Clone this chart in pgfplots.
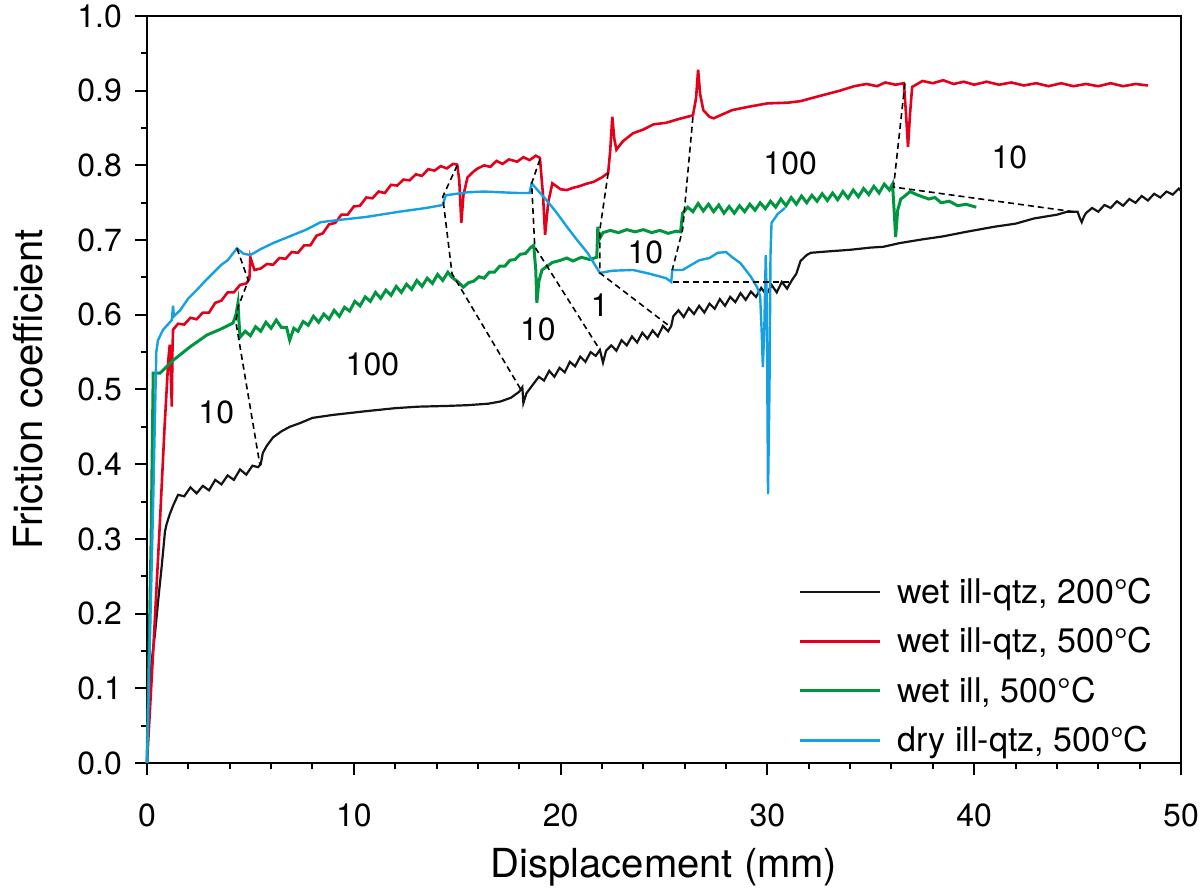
\documentclass[border=0pt]{standalone}
\usepackage{fontspec}
\setmainfont{TeX Gyre Heros}
\usepackage{pgfplots}
\pgfplotsset{compat=1.18}
\definecolor{cblack}{RGB}{20,20,20}
\definecolor{cred}{RGB}{226,0,26}
\definecolor{cgreen}{RGB}{0,150,64}
\definecolor{cblue}{RGB}{20,160,225}
\begin{document}
\begin{tikzpicture}
\begin{axis}[
 scale only axis, width=517pt, height=373.5pt,
 xmin=0, xmax=50, ymin=0, ymax=1,
 xtick={0,10,20,30,40,50},
 ytick={0,0.1,0.2,0.3,0.4,0.5,0.6,0.7,0.8,0.9,1.0},
 minor x tick num=4, minor y tick num=1,
 tick pos=left, tick align=outside,
 major tick length=6pt, minor tick length=3pt,
 every tick/.style={black, line width=1pt},
 axis line style={line width=1pt},
 tick label style={font=\fontsize{16}{19}\selectfont},
 xticklabel shift=11pt,
 yticklabel shift=3pt,
 /pgf/number format/assume math mode=true,
 yticklabel style={/pgf/number format/.cd,fixed,fixed zerofill,precision=1},
 xlabel={Displacement (mm)}, ylabel={Friction coefficient},
 label style={font=\fontsize{20}{24}\selectfont},
 xlabel style={at={([yshift=-57pt]axis description cs:0.5,0)}, anchor=base},
 ylabel style={at={([xshift=-59.5pt]axis description cs:0,0.5)}, anchor=center},
 legend style={draw=none, fill=none, font=\fontsize{17}{20}\selectfont,
   at={(axis cs:31.2,0.259)}, anchor=north west, row sep=6.5pt,
   /tikz/every odd column/.append style={column sep=6pt}},
 legend cell align=left,
 legend image code/.code={\draw[#1] (0pt,0pt) -- (40pt,0pt);},
 clip=false,
]
% black
\addplot[cblack, line width=1.1pt] coordinates {
(0,0) (0.06,0.075) (0.2,0.13) (0.39,0.174) (0.55,0.22) (0.71,0.263) (0.87,0.31) (0.95,0.320) (1.1,0.333) (1.27,0.345)
(1.5,0.359) (1.8,0.357) (2.1,0.369) (2.4,0.361) (2.7,0.371) (3.0,0.365) (3.3,0.379) (3.6,0.373) (3.9,0.385) (4.2,0.379)
(4.5,0.393) (4.8,0.386) (5.1,0.398) (5.37,0.396) (5.5,0.40) (5.6,0.415) (5.8,0.425) (6.1,0.436) (6.5,0.444) (6.9,0.45)
(7.4,0.455) (8.0,0.462) (9.0,0.466) (10.6,0.471) (12,0.475) (13.1,0.477) (14.5,0.478) (15.5,0.479) (16.5,0.481) (17.1,0.484)
(17.6,0.489) (18.0,0.497) (18.15,0.503) (18.2,0.482) (18.35,0.495) (18.7,0.508)
(18.95,0.517) (19.2,0.512) (19.45,0.525) (19.7,0.517) (19.95,0.529) (20.2,0.523) (20.45,0.537) (20.7,0.531) (20.95,0.544)
(21.2,0.537) (21.45,0.550) (21.7,0.545) (21.9,0.553) (22.05,0.536) (22.2,0.552) (22.45,0.559) (22.7,0.552) (22.95,0.566)
(23.2,0.559) (23.45,0.571) (23.7,0.563) (23.95,0.576) (24.2,0.568) (24.45,0.579) (24.7,0.571) (24.95,0.585) (25.2,0.578)
(25.35,0.585) (25.45,0.598) (25.7,0.606) (25.95,0.597) (26.2,0.609) (26.45,0.601) (26.7,0.612) (26.95,0.603) (27.2,0.615)
(27.45,0.608) (27.7,0.621) (27.95,0.612) (28.2,0.624) (28.45,0.617) (28.7,0.629) (28.95,0.620) (29.2,0.631) (29.45,0.624)
(29.7,0.636) (29.95,0.627) (30.2,0.640) (30.45,0.630) (30.7,0.644) (30.95,0.635) (31.2,0.647) (31.4,0.655) (31.6,0.672)
(31.9,0.68) (32.1,0.683) (33,0.685) (34.0,0.687) (35.0,0.69) (35.6,0.691) (36.4,0.696) (37.5,0.701) (38.5,0.705) (39.6,0.711)
(41,0.718) (42.0,0.722) (42.9,0.729) (44.0,0.734) (44.5,0.738) (45.0,0.738) (45.1,0.73) (45.2,0.724) (45.3,0.731) (45.4,0.736)
(45.7,0.743) (46.0,0.738) (46.3,0.747) (46.6,0.743) (46.9,0.752) (47.2,0.746) (47.5,0.755) (47.8,0.75) (48.1,0.759) (48.4,0.753)
(48.7,0.762) (49.0,0.757) (49.3,0.765) (49.6,0.761) (49.9,0.769) (50,0.766)
};
\addlegendentry{wet ill-qtz, 200°C}
% red
\addplot[cred, line width=1.3pt] coordinates {
(0,0) (0.3,0.15) (0.63,0.325) (0.85,0.45) (1.03,0.539) (1.1,0.56) (1.15,0.52) (1.2,0.477) (1.23,0.55) (1.26,0.58)
(1.5,0.588) (1.8,0.587) (2.1,0.596) (2.4,0.594) (2.7,0.603) (3.0,0.603) (3.3,0.616) (3.6,0.619) (3.9,0.630) (4.2,0.630)
(4.5,0.640) (4.8,0.642) (4.95,0.648) (5.0,0.677) (5.1,0.668) (5.2,0.660) (5.5,0.662) (5.8,0.668) (6.1,0.667) (6.4,0.676)
(6.7,0.675) (7.0,0.684) (7.3,0.683) (7.6,0.693) (7.9,0.693) (8.2,0.706) (8.5,0.709) (8.8,0.721) (9.1,0.723) (9.4,0.734)
(9.7,0.734) (10.0,0.745) (10.3,0.746) (10.6,0.757) (10.9,0.756) (11.2,0.765) (11.5,0.763) (11.8,0.774) (12.1,0.773) (12.4,0.781)
(12.7,0.780) (13.0,0.788) (13.3,0.786) (13.6,0.795) (13.9,0.793) (14.2,0.799) (14.5,0.796) (14.8,0.802) (15.0,0.801) (15.1,0.78)
(15.2,0.723) (15.3,0.76) (15.5,0.784) (15.8,0.792) (16.0,0.796) (16.3,0.800) (16.6,0.798) (16.9,0.806) (17.2,0.802) (17.5,0.808)
(17.9,0.805) (18.2,0.811) (18.5,0.807) (18.8,0.813) (19.0,0.810) (19.15,0.76) (19.25,0.707) (19.4,0.75) (19.6,0.776) (19.8,0.772)
(20.0,0.768) (20.3,0.767) (20.6,0.770) (20.9,0.772) (21.2,0.775) (21.6,0.778) (22.0,0.784) (22.3,0.790) (22.4,0.82) (22.5,0.865)
(22.6,0.835) (22.7,0.821) (23.0,0.832) (23.5,0.843) (24.0,0.848) (24.5,0.855) (25.1,0.857) (25.7,0.862) (26.4,0.867) (26.55,0.89)
(26.65,0.928) (26.75,0.895) (26.9,0.874) (27.2,0.865) (27.4,0.863) (27.8,0.868) (28.3,0.874) (29.0,0.878) (30.0,0.883) (31.0,0.884)
(31.6,0.886) (32.4,0.892) (33.5,0.9) (34.2,0.906) (34.8,0.909) (35.3,0.906) (35.7,0.911) (36.2,0.908) (36.6,0.910) (36.7,0.87) (36.8,0.825)
(36.9,0.87) (37.0,0.905) (37.5,0.913) (38.0,0.910) (38.5,0.914) (39.0,0.909) (39.5,0.912) (40.0,0.908) (40.6,0.912) (41.2,0.908)
(41.8,0.911) (42.4,0.907) (43.0,0.910) (43.6,0.906) (44.2,0.910) (44.8,0.906) (45.4,0.909) (46.0,0.906) (46.6,0.910) (47.2,0.906)
(47.8,0.909) (48.4,0.907)
};
\addlegendentry{wet ill-qtz, 500°C}
% green
\addplot[cgreen, line width=1.5pt] coordinates {
(0,0) (0.2,0.3) (0.3,0.522) (0.63,0.522) (1.26,0.539) (2.08,0.557) (2.9,0.573) (3.5,0.58) (4.16,0.589) (4.3,0.60)
(4.4,0.616) (4.45,0.59) (4.5,0.570) (4.75,0.578) (5.0,0.572) (5.25,0.584) (5.5,0.578) (5.75,0.590) (6.0,0.582) (6.25,0.593)
(6.5,0.583) (6.75,0.583) (6.9,0.566) (7.1,0.582) (7.3,0.578) (7.55,0.591) (7.8,0.586) (8.05,0.598) (8.3,0.590) (8.55,0.601)
(8.8,0.594) (9.05,0.606) (9.3,0.598) (9.55,0.610) (9.8,0.605) (10.05,0.618) (10.3,0.612) (10.55,0.624) (10.8,0.618) (11.05,0.630)
(11.3,0.622) (11.55,0.633) (11.8,0.626) (12.05,0.638) (12.3,0.630) (12.55,0.641) (12.8,0.634) (13.05,0.646) (13.3,0.638) (13.55,0.649)
(13.8,0.642) (14.05,0.654) (14.3,0.646) (14.55,0.657) (14.75,0.650) (15.0,0.645) (15.3,0.637) (15.55,0.643) (15.8,0.645) (16.05,0.651)
(16.3,0.649) (16.55,0.657) (16.8,0.657) (17.05,0.665) (17.3,0.665) (17.55,0.673) (17.8,0.674) (18.05,0.681) (18.3,0.682) (18.55,0.690)
(18.7,0.693) (18.8,0.66) (18.85,0.616) (18.95,0.645) (19.1,0.66) (19.3,0.664) (19.6,0.670) (20.0,0.673) (20.3,0.676) (20.6,0.672)
(21.0,0.677) (21.4,0.674) (21.75,0.677) (21.8,0.718) (21.85,0.70) (22.05,0.71) (22.4,0.713) (22.8,0.710) (23.2,0.714) (23.6,0.711)
(24.0,0.714) (24.4,0.710) (24.8,0.713) (25.2,0.709) (25.6,0.712) (25.8,0.711) (25.9,0.736) (26.15,0.744) (26.4,0.738) (26.65,0.749)
(26.9,0.739) (27.15,0.748) (27.4,0.738) (27.65,0.747) (27.9,0.736) (28.15,0.745) (28.4,0.736) (28.65,0.746) (28.9,0.738) (29.15,0.748)
(29.4,0.740) (29.65,0.750) (29.9,0.742) (30.15,0.752) (30.4,0.744) (30.65,0.755) (30.9,0.746) (31.15,0.757) (31.4,0.748) (31.65,0.759)
(31.9,0.750) (32.15,0.760) (32.4,0.752) (32.65,0.762) (32.9,0.753) (33.15,0.763) (33.4,0.754) (33.65,0.765) (33.9,0.756) (34.15,0.767)
(34.4,0.758) (34.65,0.769) (34.9,0.761) (35.15,0.772) (35.4,0.763) (35.65,0.775) (35.9,0.767) (36.05,0.775) (36.15,0.73) (36.2,0.704)
(36.3,0.74) (36.45,0.755) (36.6,0.758) (36.9,0.765) (37.2,0.761) (37.5,0.758) (37.8,0.755) (38.1,0.757) (38.4,0.750) (38.8,0.752)
(39.2,0.746) (39.6,0.748) (40.1,0.744)
};
\addlegendentry{wet ill, 500°C}
% blue
\addplot[cblue, line width=1.2pt] coordinates {
(0,0) (0.3,0.35) (0.45,0.55) (0.53,0.566) (0.78,0.58) (1.2,0.593) (1.26,0.612) (1.3,0.598) (1.6,0.606) (2.0,0.622)
(2.4,0.633) (2.8,0.645) (3.2,0.656) (3.6,0.667) (3.9,0.673) (4.35,0.689) (4.65,0.682) (5.0,0.680) (5.5,0.688) (6.1,0.696)
(6.9,0.705) (7.7,0.714) (8.4,0.724) (9.3,0.727) (10.6,0.731) (12.2,0.738) (13.5,0.743) (14.3,0.747) (14.45,0.760) (15.5,0.764)
(16.3,0.765) (17.1,0.764) (18.0,0.763) (18.5,0.763) (18.6,0.776) (19.3,0.754) (19.8,0.737) (20.3,0.718) (20.8,0.70) (21.3,0.683)
(21.9,0.656) (22.5,0.659) (23.5,0.660) (24.3,0.655) (25.1,0.649) (25.35,0.644) (25.4,0.66) (25.9,0.66) (26.7,0.673) (27.2,0.676)
(27.6,0.683) (28.0,0.684) (28.3,0.677) (28.7,0.669) (29.2,0.651) (29.5,0.637) (29.65,0.625) (29.72,0.58) (29.78,0.53) (29.85,0.58)
(29.92,0.68) (29.97,0.62) (30.03,0.36) (30.1,0.50) (30.15,0.68) (30.2,0.723) (30.5,0.735) (30.85,0.743)
};
\addlegendentry{dry ill-qtz, 500°C}
% dashed connectors
\addplot[forget plot, black, line width=0.8pt, dash pattern=on 3pt off 2pt] coordinates {(4.35,0.689) (4.9,0.646) (4.4,0.61) (4.3,0.59) (5.46,0.399)};
\addplot[forget plot, black, line width=0.8pt, dash pattern=on 3pt off 2pt] coordinates {(15.0,0.80) (14.3,0.758) (14.75,0.655) (18.1,0.499)};
\addplot[forget plot, black, line width=0.8pt, dash pattern=on 3pt off 2pt] coordinates {(19.0,0.808) (18.6,0.776) (18.75,0.691) (21.9,0.553)};
\addplot[forget plot, black, line width=0.8pt, dash pattern=on 3pt off 2pt] coordinates {(22.3,0.79) (21.9,0.714) (21.9,0.656) (25.3,0.584)};
\addplot[forget plot, black, line width=0.8pt, dash pattern=on 3pt off 2pt] coordinates {(26.4,0.865) (25.9,0.714) (25.4,0.66)};
\addplot[forget plot, black, line width=0.8pt, dash pattern=on 3pt off 2pt] coordinates {(25.45,0.644) (31.1,0.644)};
\addplot[forget plot, black, line width=0.8pt, dash pattern=on 3pt off 2pt] coordinates {(36.65,0.91) (36.1,0.771) (44.8,0.738)};
% annotations
\begin{scope}[every node/.style={font=\fontsize{16}{19}\selectfont}]
\node at (axis cs:3.35,0.469) {10};
\node at (axis cs:10.9,0.533) {100};
\node at (axis cs:18.9,0.58) {10};
\node at (axis cs:21.9,0.613) {1};
\node at (axis cs:24.1,0.683) {10};
\node at (axis cs:31.1,0.803) {100};
\node at (axis cs:41.7,0.811) {10};
\end{scope}
\end{axis}
\pgfresetboundingbox
\path (-73.5pt,-63pt) rectangle (526.5pt,381.5pt);
\end{tikzpicture}
\end{document}
